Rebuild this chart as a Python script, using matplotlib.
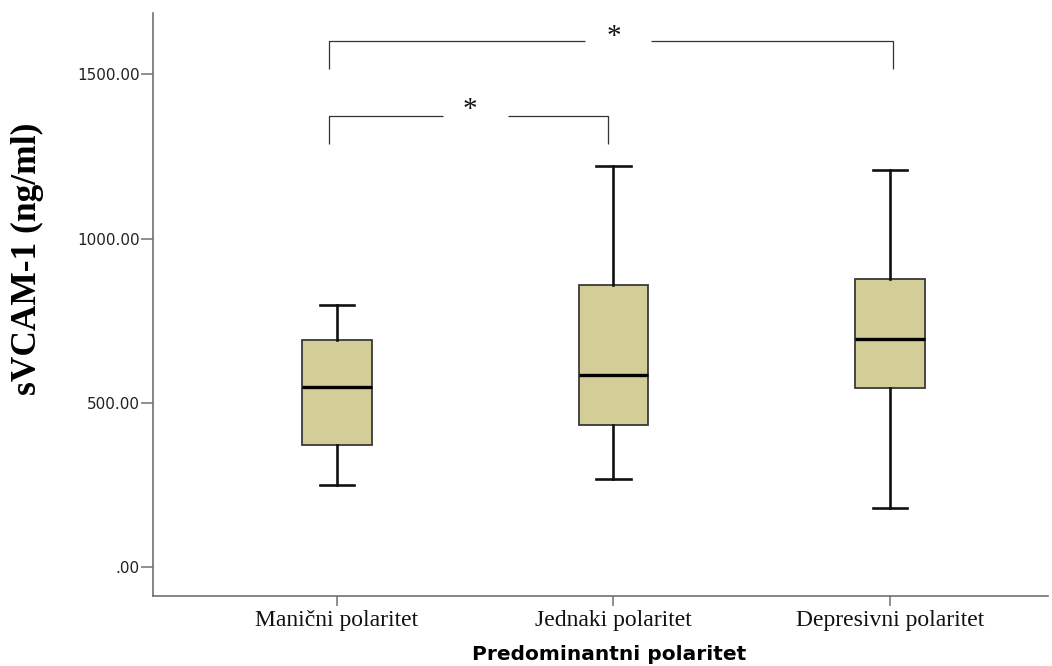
import matplotlib
matplotlib.use("Agg")
import matplotlib.pyplot as plt
from matplotlib.ticker import FuncFormatter, FixedLocator

# ---- data ----
categories = ["Manični polaritet", "Jednaki polaritet", "Depresivni polaritet"]
whisker_low = [250, 270, 181]
q1_values = [372, 434, 546]
medians = [549, 586, 696]
q3_values = [691, 859, 878]
whisker_high = [798, 1221, 1208]
y_ticks = [0, 500, 1000, 1500]

fig = plt.figure(figsize=(10.52, 6.66), dpi=100)
ax = fig.add_axes([153 / 1052, 70 / 666, 895 / 1052, 583 / 666])

stats = []
for i, name in enumerate(categories):
    stats.append(dict(label=name, whislo=whisker_low[i], q1=q1_values[i],
                      med=medians[i], q3=q3_values[i], whishi=whisker_high[i],
                      fliers=[]))

positions = list(range(len(categories)))
ax.bxp(stats, positions=positions, widths=0.253, capwidths=0.125,
       patch_artist=True, showfliers=False,
       boxprops=dict(facecolor="#D3CE98", edgecolor="#3a3a3a", linewidth=1.3),
       medianprops=dict(color="black", linewidth=2.4, solid_capstyle="butt"),
       whiskerprops=dict(color="#111111", linewidth=1.9),
       capprops=dict(color="#111111", linewidth=1.9))

ax.set_xlim(-0.665, 2.571)
ax.set_ylim(-87, 1687)

# spines
for s in ["top", "right"]:
    ax.spines[s].set_visible(False)
for s in ["left", "bottom"]:
    ax.spines[s].set_color("#707070")
    ax.spines[s].set_linewidth(1.2)

ax.yaxis.set_major_locator(FixedLocator(y_ticks))
def fmt(v, pos):
    s = f"{v:.2f}"
    if s.startswith("0"):
        s = s[1:]
    return s
ax.yaxis.set_major_formatter(FuncFormatter(fmt))
ax.tick_params(axis="y", direction="out", length=8.5, width=1.1, color="#707070",
               labelsize=11, labelcolor="#222222", pad=1)
ax.tick_params(axis="x", direction="out", length=7, width=1.1, color="#707070",
               labelsize=17, labelcolor="#111111", pad=3)
for lab in ax.get_yticklabels():
    lab.set_family("DejaVu Sans")
ax.set_xticks(positions)
ax.set_xticklabels(categories, family="Liberation Serif")

ax.set_ylabel("sVCAM-1 (ng/ml)", family="Liberation Serif", fontweight="bold",
              fontsize=25.5, color="black")
ax.yaxis.set_label_coords(-0.1397, 0.578)
ax.yaxis.label.set_va("center")

ax.set_xlabel("Predominantni polaritet", family="DejaVu Sans", fontweight="bold",
              fontsize=14.5, color="black")
ax.xaxis.set_label_coords(0.51, -0.0995)
ax.xaxis.label.set_va("center")

# significance brackets
line_kw = dict(color="#333333", linewidth=0.9, solid_capstyle="butt", clip_on=False)
# top bracket: Manični vs Depresivni
ax.plot([-0.029, -0.029, 0.897], [1518, 1602, 1602], **line_kw)
ax.plot([1.136, 2.01, 2.01], [1602, 1602, 1518], **line_kw)
ax.text(1.0, 1614, "*", ha="center", va="center", fontsize=21,
        family="Liberation Serif", color="#111111")
# lower bracket: Manični vs Jednaki
ax.plot([-0.029, -0.029, 0.383], [1287, 1373, 1373], **line_kw)
ax.plot([0.617, 0.979, 0.979], [1373, 1373, 1287], **line_kw)
ax.text(0.48, 1392, "*", ha="center", va="center", fontsize=21,
        family="Liberation Serif", color="#111111")

fig.savefig("out.png", dpi=100)
